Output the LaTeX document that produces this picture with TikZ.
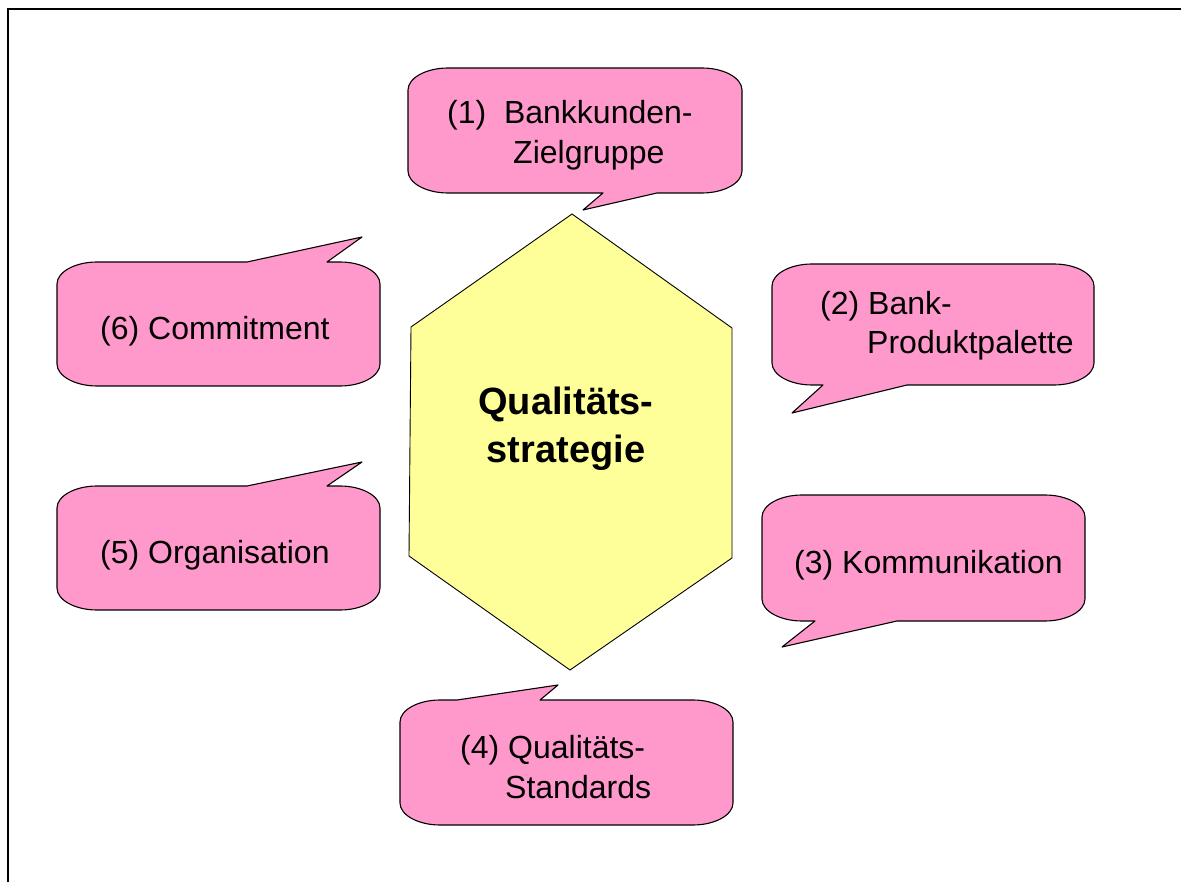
\documentclass[tikz,border=0pt]{standalone}
\usepackage{fontspec}
\setmainfont{Liberation Sans}
\definecolor{bubblepink}{HTML}{FF99CC}
\definecolor{hexyellow}{HTML}{FFFF99}
\tikzset{
  bubble/.style={fill=bubblepink, draw=black, line width=1.1pt, line join=round},
  hexa/.style={fill=hexyellow, draw=black, line width=0.9pt, line join=miter},
  lbl/.style={anchor=base west, inner sep=0pt, font=\fontsize{32}{38}\selectfont},
  title/.style={anchor=base, inner sep=0pt, font=\fontsize{38}{46}\selectfont\bfseries},
  frame/.style={draw=black, line width=2pt}
}
% callout with pointer on the bottom edge: x1 y1 x2 y2 A B tipx tipy
\newcommand{\bubbleBot}[8]{%
\draw[bubble] (#1,{#2+22})
 .. controls (#1,{#2+10}) and ({#1+18},{#2}) .. ({#1+40},{#2})
 -- ({#3-40},{#2})
 .. controls ({#3-18},{#2}) and (#3,{#2+10}) .. (#3,{#2+22})
 -- (#3,{#4-22})
 .. controls (#3,{#4-10}) and ({#3-18},{#4}) .. ({#3-40},{#4})
 -- (#6,#4) -- (#7,#8) -- (#5,#4)
 -- ({#1+40},{#4})
 .. controls ({#1+18},{#4}) and (#1,{#4-10}) .. (#1,{#4-22})
 -- cycle;}
% callout with pointer on the top edge: x1 y1 x2 y2 A B tipx tipy
\newcommand{\bubbleTop}[8]{%
\draw[bubble] (#1,{#2+22})
 .. controls (#1,{#2+10}) and ({#1+18},{#2}) .. ({#1+40},{#2})
 -- (#5,#2) -- (#7,#8) -- (#6,#2)
 -- ({#3-40},{#2})
 .. controls ({#3-18},{#2}) and (#3,{#2+10}) .. (#3,{#2+22})
 -- (#3,{#4-22})
 .. controls (#3,{#4-10}) and ({#3-18},{#4}) .. ({#3-40},{#4})
 -- ({#1+40},{#4})
 .. controls ({#1+18},{#4}) and (#1,{#4-10}) .. (#1,{#4-22})
 -- cycle;}
\begin{document}
\begin{tikzpicture}[x=1pt,y=-1pt]
\useasboundingbox (0,0) rectangle (1181,882);
\fill[white] (0,0) rectangle (1181,882);
% frame (top and left edges)
\coordinate (fbl) at (8,882);
\coordinate (ftl) at (8,9);
\coordinate (ftr) at (1181,9);
\draw[frame] (fbl) -- (ftl) -- (ftr);
% central hexagon
\coordinate (h1) at (572,214);
\coordinate (h2) at (732,328);
\coordinate (h3) at (732,558);
\coordinate (h4) at (570,670);
\coordinate (h5) at (409,556);
\coordinate (h6) at (411,327);
\draw[hexa] (h1) -- (h2) -- (h3) -- (h4) -- (h5) -- (h6) -- cycle;
\node[title] (q1) at (566,415) {Qualitäts-};
\node[title] (q2) at (566,462) {strategie};
% callouts
\bubbleBot{408}{68}{742}{193}{603}{657}{583}{210}
\node[lbl] (c1a) at (447,124) {(1)\ \ Bankkunden-};
\node[lbl] (c1b) at (513,164) {Zielgruppe};
\bubbleBot{772}{264}{1094}{385}{823}{907}{792}{413}
\node[lbl] (c2a) at (820,315) {(2) Bank-};
\node[lbl] (c2b) at (867,354) {Produktpalette};
\bubbleBot{762}{495}{1085}{621}{815}{897}{782}{647}
\node[lbl] (c3) at (794,573) {(3) Kommunikation};
\bubbleTop{400}{700}{733}{825}{457}{540}{558}{685}
\node[lbl] (c4a) at (460,758) {(4) Qualitäts-};
\node[lbl] (c4b) at (505,798) {Standards};
\bubbleTop{57}{486}{380}{610}{247}{327}{362}{462}
\node[lbl] (c5) at (100,563) {(5) Organisation};
\bubbleTop{57}{262}{380}{386}{247}{327}{362}{237}
\node[lbl] (c6) at (100,340) {(6) Commitment};
\end{tikzpicture}
\end{document}
